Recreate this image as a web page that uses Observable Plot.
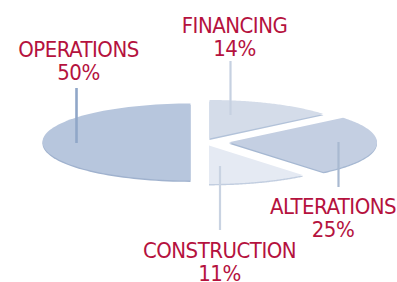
<!DOCTYPE html>
<html>
<head>
<meta charset="utf-8">
<script src="https://cdn.jsdelivr.net/npm/d3@7"></script>
<script src="https://cdn.jsdelivr.net/npm/@observablehq/plot@0.6"></script>
<style>
  html, body { margin: 0; padding: 0; background: #fff; }
  #chart svg { display: block; }
</style>
</head>
<body>
<div id="chart"></div>
<script>
// ---- data ----
const categories = ["FINANCING", "ALTERATIONS", "CONSTRUCTION", "OPERATIONS"];
const shares = [14, 25, 11, 50];
const shareLabels = ["14%", "25%", "11%", "50%"];

// ---- layout / style ----
const W = 397, H = 282;
const pie = { cx: 208.5, cy: 141.5, rx: 148, ry: 38.5, depth: 1.4 };
const explode = {
  FINANCING: [0.5, -3.5],
  ALTERATIONS: [20, 0.3],
  CONSTRUCTION: [0, 3.5],
  OPERATIONS: [-18.5, 0]
};
const topColor = {
  FINANCING: "#d4dce9",
  ALTERATIONS: "#c4cfe2",
  CONSTRUCTION: "#e5eaf3",
  OPERATIONS: "#b7c6dd"
};
const edgeColor = {
  FINANCING: "#b2c2d9",
  ALTERATIONS: "#a6b8d2",
  CONSTRUCTION: "#c2cee0",
  OPERATIONS: "#a0b2ce"
};
const leader = {
  FINANCING: { x: 230, y1: 61, y2: 115, color: "#c6d1e1", w: 2.2 },
  ALTERATIONS: { x: 338, y1: 142, y2: 187, color: "#a9b9d1", w: 2.2 },
  CONSTRUCTION: { x: 219.5, y1: 166, y2: 230, color: "#c9d3e2", w: 2.2 },
  OPERATIONS: { x: 76, y1: 88, y2: 143, color: "#90a7c8", w: 2.6 }
};
const labelPos = {
  FINANCING: { x: 234, y: 16.5 },
  ALTERATIONS: { x: 332.5, y: 197 },
  CONSTRUCTION: { x: 219, y: 241 },
  OPERATIONS: { x: 78, y: 40 }
};
const textColor = "#b5123e";

// ---- geometry from data ----
const total = d3.sum(shares);
const slices = [];
let acc = 0;
categories.forEach((cat, i) => {
  const a0 = acc / total * 2 * Math.PI;
  acc += shares[i];
  const a1 = acc / total * 2 * Math.PI;
  const [dx, dy] = explode[cat];
  const cx = pie.cx + dx, cy = pie.cy + dy;
  const pts = [{ x: cx, y: cy }];
  const n = 80;
  for (let k = 0; k <= n; k++) {
    const a = a0 + (a1 - a0) * k / n;
    pts.push({ x: cx + pie.rx * Math.sin(a), y: cy - pie.ry * Math.cos(a) });
  }
  pts.push({ x: cx, y: cy });
  slices.push({ cat, pts });
});

const labelData = categories.map((cat, i) => ({
  cat, text: cat + "\n" + shareLabels[i], x: labelPos[cat].x, y: labelPos[cat].y
}));
const leaderData = categories.map(cat => ({ cat, ...leader[cat] }));

const marks = [];
for (const s of slices) {
  marks.push(Plot.line(s.pts, {
    x: "x", y: d => d.y + pie.depth, fill: edgeColor[s.cat], stroke: "none"
  }));
}
for (const s of slices) {
  marks.push(Plot.line(s.pts, {
    x: "x", y: "y", fill: topColor[s.cat], stroke: "none"
  }));
}
for (const l of leaderData) {
  marks.push(Plot.ruleX([l], {
    x: "x", y1: "y1", y2: "y2", stroke: l.color, strokeWidth: l.w
  }));
}
marks.push(Plot.text(labelData, {
  x: "x", y: "y", text: "text",
  textAnchor: "middle", lineAnchor: "top", lineHeight: 1.04,
  fill: textColor, fontSize: 22,
  fontFamily: "'DejaVu Sans Condensed', 'DejaVu Sans', sans-serif",
  stroke: "none"
}));

const chart = Plot.plot({
  width: W, height: H,
  margin: 0,
  x: { domain: [0, W], range: [0, W], axis: null },
  y: { domain: [0, H], range: [0, H], axis: null },
  style: { background: "#fff", overflow: "visible", letterSpacing: "-0.5px" },
  marks
});
document.getElementById("chart").appendChild(chart);
</script>
</body>
</html>
